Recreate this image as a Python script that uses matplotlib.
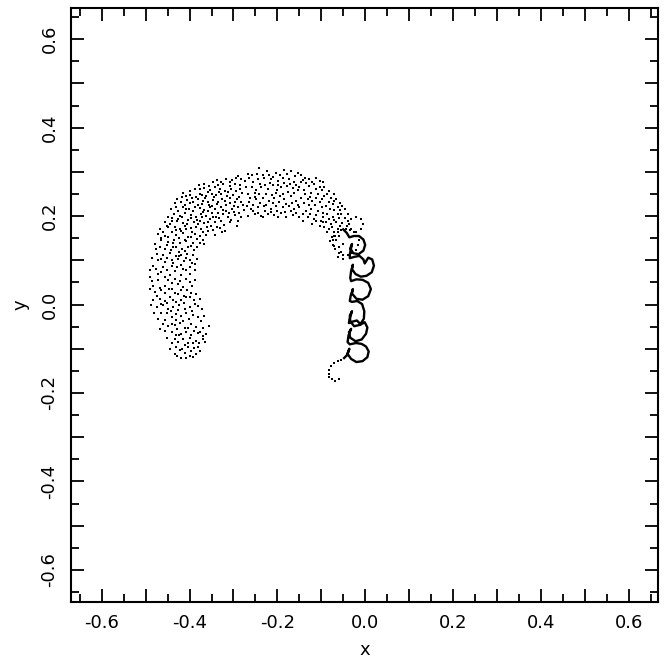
import matplotlib
matplotlib.use("Agg")
import matplotlib.pyplot as plt
from matplotlib.ticker import MultipleLocator, FuncFormatter
import numpy as np

plt.rcParams['font.family'] = ['DejaVu Sans']
plt.rcParams['axes.unicode_minus'] = False

# upper-left part of the arc (x, y)
arc_left = [
    (-0.316, 0.283), (-0.303, 0.281), (-0.294, 0.286), (-0.282, 0.283), (-0.347, 0.276),
    (-0.335, 0.270), (-0.324, 0.272), (-0.309, 0.268), (-0.297, 0.273), (-0.286, 0.271),
    (-0.388, 0.261), (-0.367, 0.263), (-0.354, 0.259), (-0.343, 0.265), (-0.331, 0.261),
    (-0.320, 0.257), (-0.305, 0.261), (-0.294, 0.257), (-0.281, 0.253), (-0.428, 0.238),
    (-0.407, 0.246), (-0.400, 0.248), (-0.377, 0.251), (-0.362, 0.246), (-0.350, 0.250),
    (-0.339, 0.248), (-0.328, 0.251), (-0.314, 0.246), (-0.301, 0.248), (-0.287, 0.244),
    (-0.419, 0.233), (-0.405, 0.236), (-0.392, 0.233), (-0.381, 0.238), (-0.369, 0.235),
    (-0.358, 0.231), (-0.347, 0.236), (-0.335, 0.231), (-0.320, 0.235), (-0.309, 0.229),
    (-0.297, 0.233), (-0.282, 0.231), (-0.443, 0.216), (-0.430, 0.220), (-0.415, 0.221),
    (-0.402, 0.216), (-0.388, 0.221), (-0.377, 0.218), (-0.366, 0.214), (-0.354, 0.220),
    (-0.343, 0.216), (-0.329, 0.221), (-0.316, 0.212), (-0.303, 0.216), (-0.290, 0.220),
    (-0.276, 0.214), (-0.449, 0.197), (-0.435, 0.205), (-0.422, 0.201), (-0.411, 0.206),
    (-0.396, 0.203), (-0.385, 0.199), (-0.373, 0.205), (-0.362, 0.201), (-0.350, 0.206),
    (-0.339, 0.199), (-0.324, 0.205), (-0.313, 0.197), (-0.296, 0.203), (-0.282, 0.199),
    (-0.457, 0.186), (-0.441, 0.190), (-0.428, 0.188), (-0.415, 0.184), (-0.403, 0.191),
    (-0.390, 0.186), (-0.377, 0.190), (-0.366, 0.184), (-0.354, 0.193), (-0.341, 0.186),
    (-0.328, 0.188), (-0.309, 0.186), (-0.290, 0.188), (-0.468, 0.171), (-0.449, 0.175),
    (-0.434, 0.176), (-0.422, 0.171), (-0.411, 0.178), (-0.397, 0.173), (-0.385, 0.176),
    (-0.373, 0.171), (-0.360, 0.175), (-0.347, 0.169), (-0.331, 0.173), (-0.320, 0.167),
    (-0.472, 0.160), (-0.455, 0.156), (-0.441, 0.163), (-0.430, 0.158), (-0.415, 0.161),
    (-0.403, 0.153), (-0.388, 0.160), (-0.377, 0.156), (-0.362, 0.158), (-0.343, 0.158),
    (-0.479, 0.137), (-0.464, 0.145), (-0.449, 0.141), (-0.435, 0.146), (-0.422, 0.139),
    (-0.407, 0.143), (-0.392, 0.139), (-0.377, 0.139), (-0.366, 0.137), (-0.468, 0.130),
    (-0.457, 0.126), (-0.443, 0.123), (-0.430, 0.131), (-0.417, 0.126), (-0.403, 0.130),
    (-0.390, 0.123), (-0.475, 0.115), (-0.460, 0.111), (-0.445, 0.116), (-0.432, 0.109),
    (-0.419, 0.113), (-0.405, 0.115), (-0.392, 0.111), (-0.472, 0.100), (-0.457, 0.096),
    (-0.441, 0.100), (-0.426, 0.103), (-0.413, 0.098), (-0.400, 0.101),
    (-0.410, 0.226), (-0.398, 0.229), (-0.386, 0.244), (-0.372, 0.228), (-0.364, 0.241),
    (-0.356, 0.224), (-0.344, 0.243), (-0.337, 0.227), (-0.326, 0.239), (-0.318, 0.224),
    (-0.308, 0.240), (-0.299, 0.222), (-0.291, 0.238), (-0.284, 0.262), (-0.312, 0.254),
    (-0.333, 0.255), (-0.359, 0.254), (-0.372, 0.248), (-0.395, 0.241), (-0.417, 0.243),
    (-0.433, 0.229), (-0.426, 0.212), (-0.409, 0.215), (-0.393, 0.211), (-0.381, 0.226),
    (-0.370, 0.210), (-0.358, 0.212), (-0.348, 0.223), (-0.336, 0.208), (-0.323, 0.214),
    (-0.311, 0.206), (-0.298, 0.210), (-0.287, 0.206), (-0.279, 0.224), (-0.439, 0.196),
    (-0.427, 0.194), (-0.418, 0.197), (-0.406, 0.182), (-0.397, 0.196), (-0.383, 0.192),
    (-0.371, 0.197), (-0.357, 0.187), (-0.346, 0.198), (-0.333, 0.195), (-0.321, 0.181),
    (-0.305, 0.192), (-0.293, 0.178), (-0.452, 0.178), (-0.444, 0.183), (-0.431, 0.168),
    (-0.419, 0.167), (-0.407, 0.170), (-0.394, 0.165), (-0.380, 0.182), (-0.369, 0.163),
    (-0.352, 0.178), (-0.338, 0.176), (-0.326, 0.163), (-0.461, 0.165), (-0.448, 0.152),
    (-0.438, 0.140), (-0.424, 0.151), (-0.411, 0.147), (-0.396, 0.152), (-0.383, 0.148),
    (-0.370, 0.147), (-0.357, 0.166), (-0.466, 0.150), (-0.476, 0.125), (-0.452, 0.134),
    (-0.438, 0.129), (-0.425, 0.118), (-0.410, 0.122), (-0.397, 0.133), (-0.384, 0.129),
    (-0.485, 0.106), (-0.466, 0.104), (-0.451, 0.106), (-0.437, 0.093), (-0.423, 0.110),
    (-0.408, 0.106), (-0.395, 0.095), (-0.384, 0.103),
    (-0.366, 0.272), (-0.356, 0.268), (-0.338, 0.281), (-0.329, 0.277), (-0.309, 0.277),
    (-0.290, 0.290), (-0.274, 0.279), (-0.268, 0.296), (-0.377, 0.261), (-0.398, 0.256),
    (-0.414, 0.252), (-0.378, 0.270),
]

# top and right part of the arc
arc_right = [
    (-0.264, 0.287), (-0.241, 0.308), (-0.223, 0.302), (-0.203, 0.298), (-0.184, 0.304),
    (-0.169, 0.301), (-0.154, 0.298), (-0.127, 0.283), (-0.112, 0.286), (-0.097, 0.276),
    (-0.271, 0.265), (-0.256, 0.276), (-0.245, 0.283), (-0.230, 0.286), (-0.214, 0.283),
    (-0.199, 0.280), (-0.188, 0.287), (-0.173, 0.283), (-0.161, 0.278), (-0.142, 0.281),
    (-0.135, 0.274), (-0.116, 0.272), (-0.104, 0.265), (-0.093, 0.266), (-0.082, 0.257),
    (-0.267, 0.250), (-0.252, 0.253), (-0.237, 0.265), (-0.222, 0.261), (-0.211, 0.270),
    (-0.203, 0.253), (-0.192, 0.265), (-0.178, 0.268), (-0.165, 0.263), (-0.150, 0.266),
    (-0.139, 0.259), (-0.123, 0.253), (-0.108, 0.250), (-0.093, 0.246), (-0.078, 0.242),
    (-0.067, 0.238), (-0.264, 0.231), (-0.248, 0.238), (-0.233, 0.242), (-0.218, 0.235),
    (-0.207, 0.242), (-0.195, 0.246), (-0.184, 0.238), (-0.169, 0.246), (-0.158, 0.235),
    (-0.146, 0.242), (-0.131, 0.238), (-0.120, 0.235), (-0.104, 0.231), (-0.089, 0.223),
    (-0.074, 0.227), (-0.063, 0.220), (-0.260, 0.216), (-0.245, 0.220), (-0.230, 0.223),
    (-0.214, 0.216), (-0.203, 0.223), (-0.188, 0.220), (-0.173, 0.223), (-0.161, 0.216),
    (-0.150, 0.220), (-0.135, 0.212), (-0.123, 0.216), (-0.108, 0.212), (-0.097, 0.208),
    (-0.086, 0.205), (-0.074, 0.197), (-0.063, 0.205), (-0.267, 0.201), (-0.252, 0.205),
    (-0.237, 0.201), (-0.222, 0.205), (-0.207, 0.203), (-0.192, 0.206), (-0.180, 0.199),
    (-0.165, 0.203), (-0.150, 0.197), (-0.131, 0.197), (-0.116, 0.193), (-0.101, 0.190),
    (-0.089, 0.186), (-0.078, 0.182), (-0.067, 0.186), (-0.233, 0.197), (-0.199, 0.197),
    (-0.142, 0.190), (-0.120, 0.182), (-0.104, 0.178), (-0.093, 0.175), (-0.082, 0.171),
    (-0.072, 0.163), (-0.063, 0.171), (-0.076, 0.152), (-0.067, 0.145), (-0.059, 0.156),
    (-0.070, 0.133), (-0.059, 0.130), (-0.051, 0.137), (-0.055, 0.118), (-0.063, 0.107),
    (-0.051, 0.103), (-0.045, 0.215), (-0.040, 0.205), (-0.046, 0.195), (-0.038, 0.188),
    (-0.042, 0.178),
    (-0.257, 0.292), (-0.247, 0.295), (-0.233, 0.293), (-0.218, 0.294), (-0.209, 0.289),
    (-0.194, 0.292), (-0.178, 0.296), (-0.160, 0.290), (-0.147, 0.294), (-0.138, 0.287),
    (-0.121, 0.278), (-0.102, 0.279), (-0.258, 0.266), (-0.249, 0.260), (-0.239, 0.272),
    (-0.228, 0.270), (-0.217, 0.275), (-0.198, 0.270), (-0.186, 0.275), (-0.171, 0.272),
    (-0.158, 0.270), (-0.146, 0.276), (-0.129, 0.268), (-0.111, 0.262), (-0.099, 0.259),
    (-0.087, 0.250), (-0.072, 0.250), (-0.262, 0.241), (-0.251, 0.244), (-0.241, 0.249),
    (-0.226, 0.250), (-0.213, 0.248), (-0.200, 0.259), (-0.188, 0.251), (-0.176, 0.255),
    (-0.161, 0.252), (-0.153, 0.258), (-0.137, 0.249), (-0.126, 0.244), (-0.113, 0.241),
    (-0.099, 0.239), (-0.083, 0.233), (-0.071, 0.234), (-0.058, 0.229), (-0.269, 0.222),
    (-0.255, 0.226), (-0.240, 0.230), (-0.225, 0.226), (-0.211, 0.229), (-0.196, 0.231),
    (-0.180, 0.227), (-0.166, 0.229), (-0.153, 0.226), (-0.140, 0.230), (-0.128, 0.226),
    (-0.115, 0.224), (-0.098, 0.221), (-0.081, 0.216), (-0.070, 0.213), (-0.058, 0.214),
    (-0.052, 0.222), (-0.256, 0.211), (-0.244, 0.206), (-0.228, 0.211), (-0.215, 0.209),
    (-0.200, 0.212), (-0.183, 0.210), (-0.170, 0.212), (-0.157, 0.207), (-0.141, 0.205),
    (-0.126, 0.205), (-0.112, 0.202), (-0.095, 0.198), (-0.083, 0.194), (-0.070, 0.192),
    (-0.060, 0.196), (-0.054, 0.205), (-0.112, 0.188), (-0.097, 0.186), (-0.075, 0.175),
    (-0.053, 0.185), (-0.058, 0.178), (-0.086, 0.163), (-0.080, 0.143), (-0.068, 0.155),
]

# lower-left arm
arm = [
    (-0.483, 0.088), (-0.460, 0.086), (-0.441, 0.088), (-0.419, 0.090), (-0.400, 0.086),
    (-0.388, 0.091), (-0.491, 0.062), (-0.473, 0.070), (-0.457, 0.062), (-0.445, 0.066),
    (-0.434, 0.076), (-0.420, 0.066), (-0.407, 0.079), (-0.388, 0.077), (-0.483, 0.043),
    (-0.468, 0.038), (-0.457, 0.041), (-0.441, 0.049), (-0.426, 0.047), (-0.415, 0.040),
    (-0.400, 0.051), (-0.388, 0.055), (-0.479, 0.028), (-0.464, 0.032), (-0.447, 0.036),
    (-0.434, 0.026), (-0.419, 0.032), (-0.405, 0.034), (-0.396, 0.026), (-0.385, 0.023),
    (-0.483, 0.010), (-0.468, 0.013), (-0.457, 0.008), (-0.445, 0.017), (-0.432, 0.006),
    (-0.420, 0.010), (-0.407, 0.016), (-0.390, 0.011), (-0.377, 0.013), (-0.475, -0.006),
    (-0.460, -0.002), (-0.449, -0.009), (-0.438, -0.006), (-0.426, -0.013), (-0.411, -0.009),
    (-0.400, -0.006), (-0.388, 0.001), (-0.372, -0.009), (-0.473, -0.032), (-0.457, -0.036),
    (-0.441, -0.028), (-0.430, -0.021), (-0.419, -0.027), (-0.407, -0.019), (-0.392, -0.024),
    (-0.381, -0.028), (-0.367, -0.027), (-0.460, -0.043), (-0.449, -0.049), (-0.434, -0.047),
    (-0.422, -0.042), (-0.411, -0.052), (-0.396, -0.045), (-0.385, -0.051), (-0.369, -0.054),
    (-0.356, -0.049), (-0.441, -0.062), (-0.430, -0.069), (-0.419, -0.066), (-0.407, -0.062),
    (-0.396, -0.069), (-0.381, -0.064), (-0.369, -0.072), (-0.362, -0.066), (-0.441, -0.088),
    (-0.426, -0.084), (-0.415, -0.079), (-0.403, -0.087), (-0.392, -0.088), (-0.385, -0.082),
    (-0.369, -0.077), (-0.434, -0.111), (-0.422, -0.102), (-0.411, -0.109), (-0.396, -0.105),
    (-0.385, -0.111), (-0.419, -0.122), (-0.400, -0.117), (-0.381, -0.096),
    (-0.490, 0.078), (-0.477, 0.080), (-0.466, 0.074), (-0.452, 0.078), (-0.429, 0.085),
    (-0.414, 0.080), (-0.398, 0.070), (-0.486, 0.053), (-0.471, 0.055), (-0.450, 0.056),
    (-0.434, 0.058), (-0.421, 0.054), (-0.409, 0.058), (-0.395, 0.042), (-0.491, 0.035),
    (-0.474, 0.019), (-0.455, 0.025), (-0.440, 0.035), (-0.426, 0.024), (-0.412, 0.020),
    (-0.398, 0.017), (-0.487, -0.002), (-0.466, 0.002), (-0.451, 0.004), (-0.437, 0.010),
    (-0.424, -0.001), (-0.412, 0.003), (-0.395, -0.014), (-0.381, -0.004), (-0.481, -0.020),
    (-0.465, -0.019), (-0.452, -0.020), (-0.443, -0.014), (-0.430, -0.034), (-0.414, -0.037),
    (-0.401, -0.033), (-0.374, -0.038), (-0.468, -0.056), (-0.455, -0.060), (-0.440, -0.045),
    (-0.428, -0.055), (-0.404, -0.052), (-0.391, -0.060), (-0.377, -0.063), (-0.451, -0.076),
    (-0.434, -0.078), (-0.425, -0.068), (-0.411, -0.092), (-0.399, -0.076), (-0.379, -0.087),
    (-0.365, -0.085), (-0.445, -0.100), (-0.430, -0.095), (-0.417, -0.100), (-0.404, -0.097),
    (-0.391, -0.098), (-0.376, -0.104), (-0.428, -0.117), (-0.408, -0.122), (-0.392, -0.118),
]

# two dotted rings where the arc meets the looping trail
rings = [
    (-0.021, 0.199), (-0.010, 0.194), (-0.005, 0.182), (-0.010, 0.170), (-0.021, 0.165),
    (-0.032, 0.170), (-0.037, 0.182), (-0.032, 0.194),
    (-0.044, 0.171), (-0.034, 0.169), (-0.025, 0.163), (-0.018, 0.155), (-0.015, 0.145),
    (-0.016, 0.134), (-0.021, 0.124), (-0.029, 0.116), (-0.039, 0.112), (-0.050, 0.112),
    (-0.060, 0.117), (-0.068, 0.125), (-0.073, 0.135), (-0.074, 0.146), (-0.070, 0.156),
    (-0.063, 0.164), (-0.054, 0.169),
]

# looping trail (solid part), top to bottom
trail = [
    (-0.050, 0.170), (-0.042, 0.162), (-0.036, 0.152),
    (-0.026, 0.155), (-0.014, 0.155), (-0.004, 0.147), (0.000, 0.135), (-0.004, 0.122),
    (-0.015, 0.114), (-0.027, 0.116), (-0.034, 0.127), (-0.030, 0.137), (-0.033, 0.124),
    (-0.035, 0.112),
    (-0.035, 0.105), (-0.024, 0.108), (-0.013, 0.110), (-0.004, 0.102), (-0.001, 0.093),
    (0.007, 0.106), (0.016, 0.102), (0.020, 0.088), (0.015, 0.073), (0.003, 0.065),
    (-0.010, 0.063), (-0.022, 0.069), (-0.030, 0.080), (-0.028, 0.090), (-0.032, 0.076),
    (-0.034, 0.060),
    (-0.032, 0.053), (-0.020, 0.057), (-0.006, 0.056), (0.007, 0.049), (0.013, 0.035),
    (0.007, 0.019), (-0.006, 0.011), (-0.020, 0.013), (-0.030, 0.025), (-0.028, 0.035),
    (-0.033, 0.020), (-0.035, 0.008),
    (-0.030, 0.006), (-0.018, 0.008), (-0.007, 0.001), (-0.002, -0.015), (-0.003, -0.032),
    (-0.012, -0.046), (-0.025, -0.049), (-0.034, -0.038), (-0.035, -0.025), (-0.030, -0.015),
    (-0.036, -0.035), (-0.037, -0.042),
    (-0.030, -0.039), (-0.019, -0.036), (-0.010, -0.045), (-0.001, -0.040), (0.005, -0.052),
    (0.002, -0.066), (-0.008, -0.079), (-0.022, -0.083), (-0.034, -0.075), (-0.037, -0.063),
    (-0.032, -0.055), (-0.038, -0.070), (-0.040, -0.085),
    (-0.035, -0.090), (-0.021, -0.087), (-0.008, -0.089), (0.002, -0.095), (0.008, -0.106),
    (0.005, -0.119), (-0.006, -0.128), (-0.020, -0.130), (-0.032, -0.123), (-0.040, -0.112),
    (-0.036, -0.100), (-0.042, -0.115), (-0.048, -0.121),
]

# dotted hook at the end of the trail
hook = [
    (-0.055, -0.125), (-0.063, -0.128), (-0.070, -0.133), (-0.077, -0.140), (-0.082, -0.148),
    (-0.083, -0.156), (-0.082, -0.163), (-0.076, -0.169), (-0.068, -0.172), (-0.060, -0.169),
]

fig = plt.figure(figsize=(6.65, 6.67), dpi=100)
ax = fig.add_axes([0.1068, 0.0979, 0.8827, 0.8897])

dots = np.array(arc_left + arc_right + arm + rings + hook)
ax.plot(dots[:, 0], dots[:, 1], 's', ms=1.8, mew=0, color='black')

tr = np.array(trail)
ax.plot(tr[:, 0], tr[:, 1], '-', lw=1.7, color='black')

ax.set_xlim(-0.67, 0.667)
ax.set_ylim(-0.672, 0.67)

for axis in (ax.xaxis, ax.yaxis):
    axis.set_major_locator(MultipleLocator(0.1))
    axis.set_minor_locator(MultipleLocator(0.05))
    axis.set_major_formatter(FuncFormatter(
        lambda v, p: '%.1f' % v if round(v * 10) % 2 == 0 else ''))

ax.tick_params(which='both', direction='in', top=True, right=True, width=1.3,
               labelsize=13)
ax.tick_params(which='major', length=9.5)
ax.tick_params(which='minor', length=5.5)
ax.tick_params(axis='x', pad=9)
ax.tick_params(axis='y', pad=9)
for lab in ax.get_yticklabels():
    lab.set_rotation(90)
    lab.set_va('center')
for s in ax.spines.values():
    s.set_linewidth(1.5)

ax.set_xlabel('x', fontsize=13, labelpad=6)
ax.set_ylabel('y', fontsize=13, labelpad=8)

fig.savefig('out.png', dpi=100)
